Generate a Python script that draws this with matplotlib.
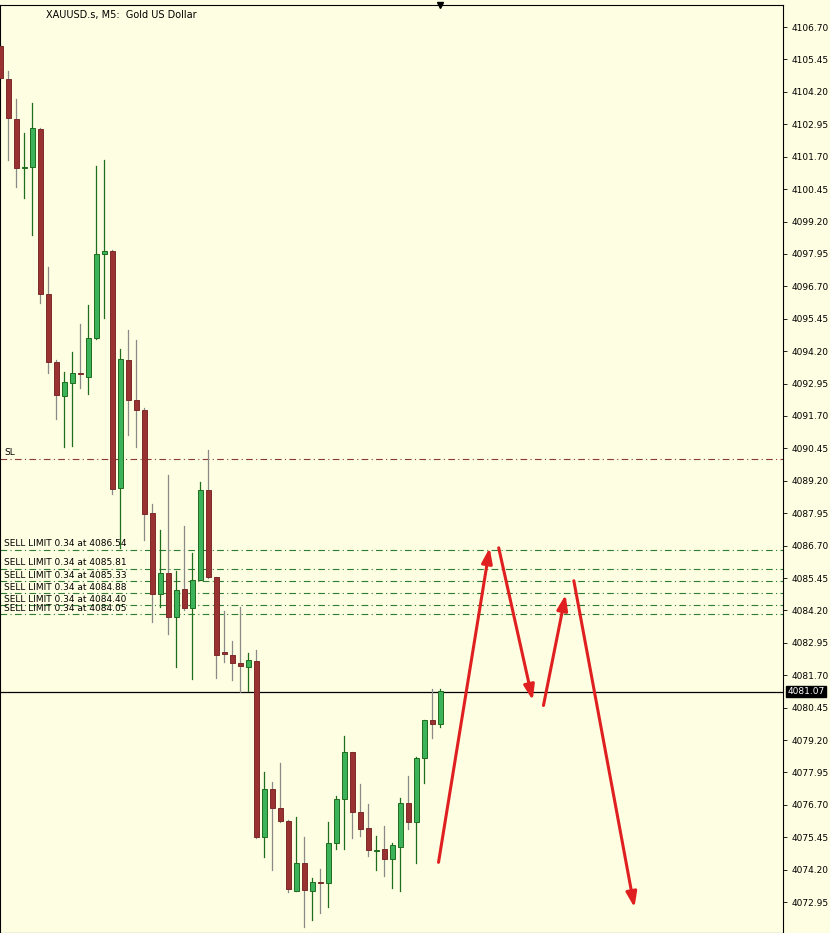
import numpy as np
import matplotlib.pyplot as plt
from matplotlib.patches import Rectangle

# M5 candles
opens = [4105.97, 4104.69, 4103.15, 4101.26, 4101.30, 4102.76, 4096.40, 4093.78, 4092.47, 4092.97,
         4093.32, 4093.20, 4094.70, 4097.94, 4098.06, 4088.92, 4093.86, 4092.31, 4091.93, 4087.95,
         4084.83, 4085.64, 4083.94, 4085.02, 4084.29, 4085.37, 4088.84, 4085.49, 4082.59, 4082.48,
         4082.17, 4082.01, 4082.25, 4075.46, 4077.31, 4076.58, 4076.07, 4073.37, 4074.45, 4073.37,
         4073.72, 4073.68, 4075.23, 4076.92, 4078.74, 4076.42, 4075.80, 4074.92, 4074.99, 4074.61,
         4075.07, 4076.77, 4076.04, 4078.50, 4079.97, 4079.82]
highs = [4106.04, 4105.00, 4103.92, 4102.61, 4103.77, 4102.80, 4097.44, 4093.86, 4093.39, 4094.16,
         4095.24, 4095.98, 4101.34, 4101.57, 4098.10, 4094.28, 4095.01, 4094.63, 4092.00, 4088.30,
         4087.30, 4089.42, 4085.72, 4087.45, 4086.41, 4089.15, 4090.38, 4085.49, 4084.17, 4083.02,
         4084.33, 4082.55, 4082.67, 4077.96, 4077.58, 4078.31, 4076.11, 4076.23, 4075.46, 4073.88,
         4074.22, 4076.04, 4077.04, 4079.35, 4078.74, 4077.50, 4076.73, 4075.50, 4075.88, 4075.23,
         4076.96, 4077.81, 4078.54, 4079.97, 4081.17, 4081.17]
lows = [4104.65, 4101.57, 4100.53, 4100.10, 4098.68, 4096.05, 4093.35, 4091.58, 4090.50, 4090.54,
        4092.78, 4092.54, 4094.67, 4095.48, 4088.69, 4086.60, 4090.96, 4090.50, 4086.91, 4083.75,
        4084.33, 4083.29, 4082.01, 4084.21, 4081.55, 4085.37, 4085.45, 4081.59, 4082.21, 4081.51,
        4081.05, 4081.09, 4075.42, 4074.69, 4074.18, 4076.04, 4073.34, 4073.37, 4071.99, 4072.26,
        4072.53, 4072.76, 4074.99, 4074.99, 4075.42, 4075.50, 4074.72, 4074.18, 4073.95, 4073.49,
        4073.37, 4075.77, 4074.45, 4077.54, 4079.28, 4079.70]
closes = [4104.73, 4103.19, 4101.26, 4101.31, 4102.80, 4096.40, 4093.78, 4092.51, 4093.01, 4093.35,
          4093.30, 4094.70, 4097.94, 4098.06, 4088.88, 4093.89, 4092.31, 4091.93, 4087.92, 4084.83,
          4085.64, 4083.94, 4084.98, 4084.29, 4085.37, 4088.84, 4085.49, 4082.48, 4082.52, 4082.17,
          4082.05, 4082.28, 4075.46, 4077.31, 4076.58, 4076.07, 4073.45, 4074.45, 4073.41, 4073.72,
          4073.68, 4075.23, 4076.92, 4078.74, 4076.42, 4075.77, 4074.96, 4074.96, 4074.61, 4075.15,
          4076.77, 4076.04, 4078.50, 4079.97, 4079.82, 4081.09]

sl_price = 4090.04
limit_prices = [4086.54, 4085.81, 4085.33, 4084.88, 4084.40, 4084.05]
limit_lots = 0.34
bid = 4081.07

# hand-drawn projection arrows (bar index, price)
arrows = [((54.7, 4074.38), (61.2, 4086.72)),
          ((62.2, 4086.72), (66.6, 4080.63)),
          ((67.8, 4080.43), (70.7, 4084.91)),
          ((71.6, 4085.45), (79.3, 4072.64))]

price_ticks = [4072.95 + 1.25 * k for k in range(28)]

bg = '#fefee2'
red = '#9b3232'
green = '#3cb35a'
dkgreen = '#1e6e1e'
ymin, ymax = 4071.76, 4107.55

fig = plt.figure(figsize=(8.3, 9.33), dpi=100, facecolor=bg)
ax = fig.add_axes([0.0, 0.0, 783 / 830, 1 - 5 / 933])
ax.set_facecolor(bg)

w = 0.7
for i in range(len(opens)):
    o, h, l, c = opens[i], highs[i], lows[i], closes[i]
    up = c >= o
    face = green if up else red
    edge = dkgreen if up else '#7a2a2a'
    wick = dkgreen if up else '#8a8a8a'
    ax.plot([i, i], [l, h], color=wick, lw=0.9, zorder=2)
    bottom = min(o, c)
    height = max(abs(c - o), 0.06)
    ax.add_patch(Rectangle((i - w / 2, bottom), w, height, facecolor=face,
                           edgecolor=edge, lw=0.7, zorder=3))

ax.axhline(sl_price, color='#8b3a3a', lw=0.8, ls=(0, (6, 3, 1, 3)), zorder=1)
ax.text(0.5, sl_price + 0.08, 'SL', fontsize=6.5, va='bottom', ha='left')
for p in limit_prices:
    ax.axhline(p, color='#2e7d32', lw=0.8, ls=(0, (6, 3, 1, 3)), zorder=1)
    ax.text(0.5, p + 0.05, f'SELL LIMIT {limit_lots} at {p:.2f}', fontsize=6.5,
            va='bottom', ha='left', zorder=4)
ax.axhline(bid, color='black', lw=0.9, zorder=1)

for (x0, y0), (x1, y1) in arrows:
    ax.annotate('', xy=(x1, y1), xytext=(x0, y0),
                arrowprops=dict(arrowstyle='-|>,head_length=0.9,head_width=0.32',
                                color='#e02020', lw=2.2), zorder=5)

ax.set_xlim(-0.04, 97.8)
ax.set_ylim(ymin, ymax)
ax.yaxis.tick_right()
ax.set_yticks(price_ticks)
ax.set_yticklabels([f'{t:.2f}' for t in price_ticks], fontsize=6.5)
ax.tick_params(axis='y', length=3, pad=3, width=0.6)
ax.set_xticks([])
for s in ax.spines.values():
    s.set_linewidth(0.8)

ax.text(1.006, (bid - ymin) / (ymax - ymin), f'{bid:.2f}', transform=ax.transAxes,
        fontsize=6.5, color='white', va='center', ha='left',
        bbox=dict(boxstyle='square,pad=0.15', fc='black', ec='black'), clip_on=False)

fig.text(0.055, 0.984, 'XAUUSD.s, M5:  Gold US Dollar', fontsize=7, va='center', ha='left')
ax.plot([55], [ymax], marker='v', color='black', ms=5, clip_on=False)

fig.savefig('out.png', dpi=100, facecolor=bg)
